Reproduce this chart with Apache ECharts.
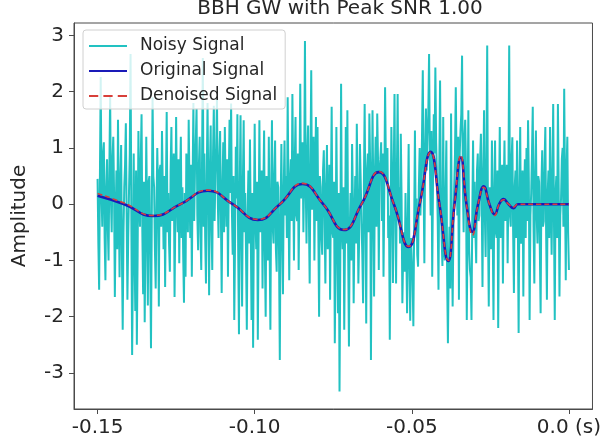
<!DOCTYPE html>
<html>
<head>
<meta charset="utf-8">
<script src="https://cdn.jsdelivr.net/npm/echarts@6/dist/echarts.min.js"></script>
<style>
  html, body { margin: 0; padding: 0; background: #ffffff; }
  #chart { width: 604px; height: 448px; }
</style>
</head>
<body>
<div id="chart"></div>
<script>
// Labels and ticks
const titleText = 'BBH GW with Peak SNR 1.00';
const yAxisTitle = 'Amplitude';
const seriesNames = ['Noisy Signal', 'Original Signal', 'Denoised Signal'];
const xTicks = [-0.15, -0.10, -0.05, 0.0];
const xTickLabels = ['-0.15', '-0.10', '-0.05', '0.0 (s)'];
const yTicks = [-3, -2, -1, 0, 1, 2, 3];
const yTickLabels = ['-3', '-2', '-1', '0', '1', '2', '3'];

// Noisy strain samples, evenly spaced in time from noisyStart
const noisyStart = -0.15;
const noisyStep = 0.00025;
const noisyValues = [
  0.45, -0.7, -1.52, 0.5, 2.26, 0.2, -0.4, 0.9, 1.1, -0.6, -1.35, 0.3, 0.8, -0.4, -1.0, 0.6, 1.93, 0.1, -0.5, 0.8,
  1.2, 0.2, -1.65, -0.3, 0.6, -0.8, 1.5, 0.1, -1.3, 0.4, 1.05, -0.9, -2.23, -0.5, 0.3, 0.7, 1.44, -0.2, -1.7, -0.6,
  0.2, 0.9, 2.67, -0.3, -2.68, -1.1, 0.9, -0.7, -1.9, 0.6, -2.5, -0.9, 1.3, 0.2, -0.4, 0.8, 1.6, -0.5, -1.6, 0.4,
  -2.1, -0.6, 1.2, -0.2, -1.8, 0.4, 0.5, -0.9, -2.56, -0.3, 1.9, 0.5, 0.3, -0.8, -1.5, -0.1, 1.0, 0.2, -1.82, 0.6,
  0.7, -0.4, 1.3, 0.3, -0.8, 0.5, -1.47, 0.2, 1.64, -0.5, 0.2, -0.7, -1.2, 0.6, 1.37, -0.3, 0.4, 0.9, -1.65, -0.2,
  1.55, 0.1, -0.5, 0.8, -1.05, 0.4, 1.2, -0.6, 0.3, -0.9, -1.75, 0.2, -1.29, 0.9, 0.7, -0.5, 1.5, 0.3, -0.6, 0.7,
  -1.29, 0.4, 1.8, -0.3, 0.6, 1.1, 1.7, -0.2, -0.82, 0.7, 1.2, -0.5, -1.17, 0.8, 2.6, -0.4, 0.9, -0.6, -1.41, 0.5,
  1.8, 0.2, -1.62, 0.6, 1.4, -0.4, -1.17, 0.9, 1.75, -0.3, 0.5, 1.0, 1.9, 0.1, -0.6, 0.8, 1.3, -0.2, -1.58, 0.3,
  1.1, -0.5, 1.37, 0.3, -0.4, 0.8, -1.29, 0.4, 1.5, 0.2, 1.79, -0.1, -0.9, 0.5, -2.06, -0.7, 1.02, 0.1, 1.6, -0.8,
  -2.31, 0.3, 1.58, -0.6, -1.82, 0.4, 1.49, -0.5, 0.2, -0.9, -2.23, -0.2, 0.6, -0.7, 1.15, -0.4, -2.06, 0.2, -2.55, -0.3,
  1.43, -0.3, -0.8, 0.4, -2.41, -0.6, 1.49, -0.5, 0.1, 0.6, -1.5, 0.2, 1.31, -0.9, -2.0, 0.5, 0.4, -1.0, 1.2, -0.7,
  -2.23, 0.2, 1.49, -0.4, -0.7, 0.5, 1.13, -0.8, -1.2, 0.4, 0.3, -0.9, -2.77, -0.1, 1.07, -0.5, -1.6, 0.3, 1.13, -0.2,
  0.5, -0.6, 1.9, 0.2, -1.35, 0.4, 0.8, -0.3, 1.96, 0.5, -1.0, 0.7, 1.55, -0.2, -0.3, 0.9, -1.17, 0.3, 2.14, 0.1,
  0.9, 1.1, -0.5, 0.5, 2.9, 0.3, -0.7, 0.9, 1.4, -0.2, -1.41, 0.7, 2.38, -0.1, 0.6, 1.2, -1.0, 0.4, 1.55, -0.3,
  1.37, -0.4, -2.0, 0.5, 0.3, -0.6, -0.9, 0.6, 0.96, -0.2, -1.41, 0.3, 1.05, -0.8, -0.4, 0.7, -1.7, 0.1, 1.73, -0.5,
  -0.6, 0.4, -2.47, -0.9, 1.37, -0.3, -1.94, 0.2, -3.33, -1.0, 2.14, -0.4, -0.8, 0.3, -2.23, -0.6, 1.37, -0.7, 1.67, -0.8,
  -2.53, -0.5, 0.2, -1.0, 1.07, 0.1, -1.76, -0.4, 0.5, -0.7, 1.43, 0.2, -1.41, -0.6, 1.07, 0.4, -0.3, -0.9, -1.76, 0.3,
  1.78, -0.2, -2.12, 0.6, 0.9, -0.5, 1.61, 0.7, -2.77, -0.3, 1.67, 0.2, -1.64, 0.5, 1.2, -0.4, 1.61, 0.8, -1.17, 0.6,
  0.8, 1.1, -0.3, 0.9, -1.29, 0.2, 2.08, 0.7, 0.4, 1.0, -0.6, -0.2, -2.41, -0.4, 1.37, 0.3, -1.4, 0.5, 1.96, -0.1,
  -1.41, 0.5, 1.96, -0.2, 0.3, -0.7, 1.25, 0.1, -1.76, -0.9, -0.5, -1.2, 0.2, -0.8, -1.94, -0.3, 1.07, -1.1, -2.07, -0.6,
  -1.0, -1.3, -2.17, -0.4, 1.31, -0.5, 0.1, -0.9, -1.11, 0.3, 1.0, -0.2, 0.4, 1.2, 2.38, 0.4, -1.05, 0.9, 1.7, 0.6,
  1.2, 1.6, 2.67, 0.8, -0.2, 1.3, -1.29, 0.4, 1.6, 0.9, 2.43, 1.1, 0.5, -0.3, -1.52, 0.6, 2.2, 0.2, -0.6, -1.1,
  1.55, -0.8, -1.0, 0.2, 1.13, -1.3, -2.47, -1.1, -0.4, -1.5, 1.61, -0.6, -1.82, -0.4, 0.3, 0.9, 2.08, 0.7, -0.2, 1.2,
  -1.7, 0.9, 1.3, 1.6, 2.64, 0.4, -0.5, 1.2, 1.5, 0.6, -2.06, -0.3, 1.67, -0.8, -1.17, -1.3, -2.06, -0.2, 1.13, -0.6,
  0.4, -0.5, -1.05, 0.6, 0.9, -0.3, -0.2, 0.8, 1.25, 0.1, -1.47, 0.5, 1.67, -0.2, -0.94, 0.7, 2.82, -0.4, -1.82, 0.3,
  -0.3, -0.8, 1.13, -0.4, -2.06, 0.2, 1.13, -0.5, -0.6, 0.6, -2.2, -0.1, 1.37, -0.6, 0.2, 0.7, -1.41, 0.2, 1.13, -0.3,
  0.3, 0.7, -1.05, 0.4, 2.82, -0.2, -0.4, 0.8, 1.19, -0.5, -1.58, 0.3, 0.6, -0.6, 1.13, -0.3, -2.29, 0.1, 1.37, -0.7,
  -0.5, 0.6, -1.64, 0.2, 0.8, -0.6, 1.0, -0.3, 1.49, 0.4, -2.06, -0.2, 0.2, 0.9, 1.73, -0.4, -1.41, 0.5, 1.31, -0.2,
  -0.7, 0.5, 0.4, -0.8, -1.94, 0.3, 0.96, -0.4, -0.3, 0.7, 1.37, -0.5, -1.7, 0.2, 0.6, -0.6, 1.37, 0.1, -0.9, 0.4,
  1.78, -0.3, -2.06, 0.2, 0.5, -0.6, 1.78, 0.3, -1.64, -0.2, 0.1, 0.8, 1.0, -0.4, 2.05, 0.4, -1.35, 0.6, 1.2, -0.5,
  -1.17
];

// Clean chirp template: turning points and zero crossings
const originalTimes = [
  -0.150, -0.1415, -0.1323, -0.1236, -0.1149, -0.1070, -0.0990, -0.0920,
  -0.0848, -0.0782, -0.0716, -0.0660, -0.0605, -0.0557, -0.0510, -0.0475,
  -0.0440, -0.0412, -0.0384, -0.0364, -0.0344, -0.0326, -0.0307, -0.0289,
  -0.0271, -0.0253, -0.0236, -0.0222, -0.0208, -0.0192, -0.0177, -0.0162,
  -0.0100, 0.0
];
const originalValues = [
  0.15, 0.0, -0.21, 0.0, 0.24, 0.0, -0.28, 0.0,
  0.36, 0.0, -0.46, 0.0, 0.57, 0.0, -0.76, 0.0,
  0.93, 0.0, -1.01, 0.0, 0.83, 0.0, -0.49, 0.0,
  0.32, 0.0, -0.18, 0.0, 0.09, 0.0, -0.07, 0.0,
  0.0, 0.0
];

// Denoised reconstruction at the same instants
const denoisedTimes = originalTimes;
const denoisedValues = [
  0.19, 0.02, -0.20, 0.0, 0.25, 0.0, -0.27, 0.0,
  0.37, 0.0, -0.45, 0.0, 0.58, 0.0, -0.75, 0.0,
  0.92, 0.0, -1.00, 0.0, 0.87, 0.0, -0.55, 0.0,
  0.30, 0.0, -0.20, 0.0, 0.08, 0.0, -0.05, 0.0,
  0.0, 0.0
];

const noisyData = noisyValues.map((v, i) => [noisyStart + i * noisyStep, v]);
const originalData = originalTimes.map((t, i) => [t, originalValues[i]]);
const denoisedData = denoisedTimes.map((t, i) => [t, denoisedValues[i]]);

const FONT = 'DejaVu Sans';
const FRAME = '#4a4a4a';
const TEXT = '#262626';
const CYAN = '#22c2c2';
const BLUE = '#1a1ab8';
const RED = '#d8403a';

// Legend keys drawn as short strokes (solid or dashed)
const solidKey = 'path://M0,0H38V2H0Z';
const dashedKey = 'path://M0,0H9V2H0Z M14,0H23V2H14Z M28,0H37V2H28Z';

const chart = echarts.init(document.getElementById('chart'), null, { renderer: 'canvas' });
chart.setOption({
  animation: false,
  backgroundColor: '#ffffff',
  title: {
    text: titleText,
    left: 335,
    top: -6,
    textAlign: 'center',
    textStyle: { fontFamily: FONT, fontSize: 20, fontWeight: 'normal', color: TEXT }
  },
  grid: {
    left: 74, right: 8, top: 23, bottom: 39,
    show: true, borderColor: FRAME, borderWidth: 1, backgroundColor: 'transparent'
  },
  legend: {
    orient: 'vertical',
    left: 83, top: 30,
    padding: [6, 8, 3, 6],
    itemGap: 5,
    itemWidth: 38,
    itemHeight: 2,
    symbolKeepAspect: false,
    backgroundColor: 'rgba(255,255,255,0.8)',
    borderColor: '#d0d0d0',
    borderWidth: 1,
    borderRadius: 3,
    textStyle: { fontFamily: FONT, fontSize: 17, color: TEXT, lineHeight: 20, padding: [0, 0, 0, 8] },
    data: [
      { name: seriesNames[0], icon: solidKey, itemStyle: { color: CYAN } },
      { name: seriesNames[1], icon: solidKey, itemStyle: { color: BLUE } },
      { name: seriesNames[2], icon: dashedKey, itemStyle: { color: RED } }
    ]
  },
  xAxis: {
    type: 'value',
    min: -0.1575, max: 0.0075,
    axisLine: { show: true, onZero: false, lineStyle: { color: FRAME } },
    axisTick: { show: true, length: 5, customValues: xTicks, lineStyle: { color: FRAME } },
    axisLabel: {
      customValues: xTicks,
      margin: 9,
      fontFamily: FONT, fontSize: 20, color: TEXT,
      formatter: v => {
        const k = xTicks.findIndex(t => Math.abs(t - v) < 1e-9);
        return k >= 0 ? xTickLabels[k] : '';
      }
    },
    splitLine: { show: false }
  },
  yAxis: {
    type: 'value',
    min: -3.64, max: 3.22,
    name: yAxisTitle,
    nameLocation: 'middle',
    nameGap: 44,
    nameTextStyle: { fontFamily: FONT, fontSize: 20, color: TEXT },
    axisLine: { show: true, onZero: false, lineStyle: { color: FRAME } },
    axisTick: { show: true, length: 5, customValues: yTicks, lineStyle: { color: FRAME } },
    axisLabel: {
      customValues: yTicks,
      margin: 10,
      fontFamily: FONT, fontSize: 20, color: TEXT,
      formatter: v => {
        const k = yTicks.findIndex(t => Math.abs(t - v) < 1e-9);
        return k >= 0 ? yTickLabels[k] : '';
      }
    },
    splitLine: { show: false }
  },
  series: [
    {
      name: seriesNames[0],
      type: 'line',
      data: noisyData,
      symbol: 'none',
      lineStyle: { color: CYAN, width: 2.0 },
      itemStyle: { color: CYAN },
      z: 2
    },
    {
      name: seriesNames[1],
      type: 'line',
      data: originalData,
      symbol: 'none',
      smooth: 0.5,
      lineStyle: { color: BLUE, width: 2.6 },
      itemStyle: { color: BLUE },
      z: 3
    },
    {
      name: seriesNames[2],
      type: 'line',
      data: denoisedData,
      symbol: 'none',
      smooth: 0.5,
      lineStyle: { color: RED, width: 1.6, type: [5, 3] },
      itemStyle: { color: RED },
      z: 4
    }
  ]
});
</script>
</body>
</html>
